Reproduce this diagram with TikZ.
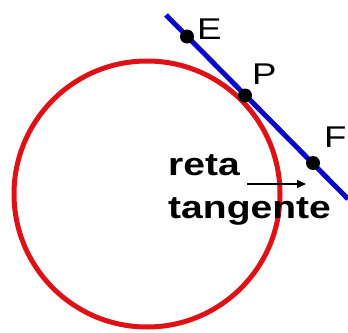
\documentclass[tikz,border=0pt]{standalone}
\usepackage{fontspec}
\setmainfont{Liberation Sans}
\newfontfamily\widefont[FakeStretch=1.22]{Liberation Sans}
\usetikzlibrary{arrows.meta}
\definecolor{cred}{RGB}{222,18,22}
\definecolor{cblue}{RGB}{8,8,200}
\begin{document}
\begin{tikzpicture}[x=1pt,y=-1pt,
  dot/.style={circle,fill=black,inner sep=0pt,minimum size=14pt},
  lbl/.style={font=\widefont\fontsize{30}{30}\selectfont,anchor=base west,inner sep=0pt},
  txt/.style={font=\widefont\bfseries\fontsize{32}{32}\selectfont,anchor=base west,inner sep=0pt},
  redline/.style={draw=cred,line width=5pt},
  blueline/.style={draw=cblue,line width=5pt},
  pointer/.style={-{Triangle[length=9pt,width=8pt]},line width=1.4pt,black}]
\useasboundingbox[fill=white] (0,0) rectangle (348,332);
\draw[redline] (147,194) circle[radius=133pt];
\coordinate (S) at (166,15);
\coordinate (T) at (348,199);
\draw[blueline] (S) -- (T);
\node[dot] (E) at (187,36.5) {};
\node[dot] (P) at (245,95.5) {};
\node[dot] (F) at (313,163) {};
\node[lbl] (lE) at (197,39) {E};
\node[lbl] (lP) at (252,84) {P};
\node[lbl] (lF) at (324,147) {F};
\node[txt] (t1) at (168,175) {reta};
\node[txt] (t2) at (168,218) {tangente};
\coordinate (a1) at (247,184);
\coordinate (a2) at (306,184);
\draw[pointer] (a1) -- (a2);
\end{tikzpicture}
\end{document}
